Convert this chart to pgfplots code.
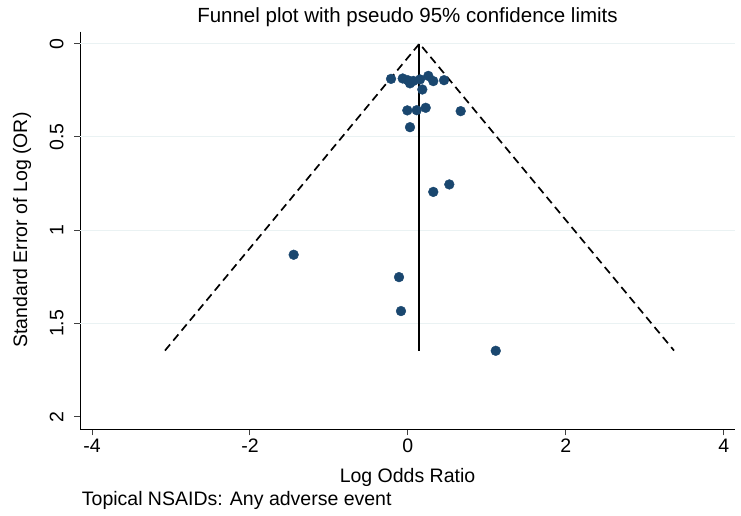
\documentclass[border=0pt]{standalone}
\usepackage{pgfplots}
\pgfplotsset{compat=1.18}
\usepackage{fontspec}
\setmainfont{Liberation Sans}
\definecolor{stnavy}{HTML}{1A476F}
\definecolor{stgrid}{HTML}{EAF2F3}
\begin{document}
\begin{tikzpicture}[x=1bp,y=1bp]
\useasboundingbox (0,0) rectangle (741,516);
\begin{axis}[
  at={(80bp,86.7bp)}, anchor=south west,
  scale only axis, width=655bp, height=397.6bp,
  xmin=-4.152, xmax=4.143, ymin=-0.064, ymax=2.068,
  y dir=reverse,
  axis x line=bottom, axis y line=left,
  axis line style={-, line width=0.9bp, black},
  xtick={-4,-2,0,2,4}, xticklabels={-4,-2,0,2,4},
  ytick={0,0.5,1,1.5,2}, yticklabels={0,0.5,1,1.5,2},
  tick align=outside, major tick length=6bp,
  tick style={line width=0.9bp, black!75},
  ticklabel style={font=\fontsize{19.5bp}{22bp}\selectfont},
  yticklabel style={rotate=90, anchor=south},
  yticklabel shift=7bp,
  extra y ticks={0,0.5,1,1.5},
  extra y tick labels={},
  extra y tick style={grid=major, major tick length=0pt, grid style={stgrid, line width=1.2bp}},
  clip=false,
]
\addplot[only marks, mark=*, mark size=4.9bp, stnavy, mark options={draw=stnavy, fill=stnavy}] coordinates {
(-0.213,0.189) (-0.065,0.187) (-0.002,0.196) (0.027,0.213) (0.07,0.20) (0.154,0.192)
(0.259,0.173) (0.322,0.201) (0.458,0.196) (0.183,0.246)
(-0.007,0.358) (0.112,0.357) (0.226,0.344) (0.669,0.362) (0.027,0.448)
(0.322,0.795) (0.525,0.755)
(-1.446,1.132) (-0.112,1.252) (-0.087,1.434) (1.113,1.647)
};
\addplot[black, line width=1.7bp, dash pattern=on 8bp off 5bp] coordinates {(-3.076,1.646) (0.147,0) (3.371,1.646)};
\addplot[draw=black, line width=2.0bp] coordinates {(0.145,0) (0.145,1.646)};
\end{axis}
\node[font=\fontsize{20.5bp}{24bp}\selectfont] at (407.5,499) {Funnel plot with pseudo 95\% confidence limits};
\node[font=\fontsize{19.5bp}{22bp}\selectfont] at (407.5,39) {Log Odds Ratio};
\node[font=\fontsize{19.5bp}{22bp}\selectfont, anchor=west, inner sep=0] at (81.7,16) {Topical NSAIDs: Any adverse event};
\node[font=\fontsize{19.5bp}{22bp}\selectfont, rotate=90] at (22,286) {Standard Error of Log (OR)};
\end{tikzpicture}
\end{document}
